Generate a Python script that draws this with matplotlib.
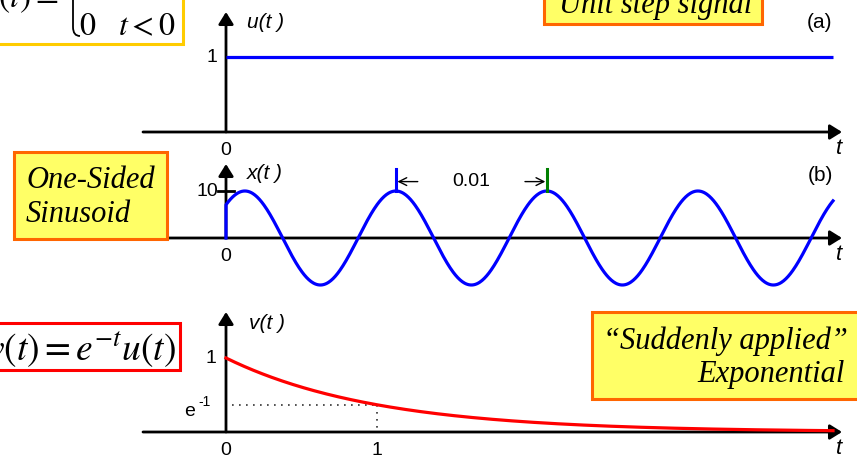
import numpy as np
import matplotlib.pyplot as plt
from matplotlib.patches import Rectangle, PathPatch
from matplotlib.path import Path

W, H = 857, 456

# (a) unit step u(t)
step_t = [0.0, 4.02]
step_u = [1.0, 1.0]

# (b) one-sided sinusoid x(t) = A cos(2*pi*f*t + phase) u(t)
sin_amp = 10
sin_freq = 100          # Hz -> period 0.01
sin_phase = -np.pi / 4
sin_t_end = 0.0402
period_marks = [0.01125, 0.02125]   # peaks marked by the 0.01 arrows

# (c) v(t) = exp(-t) u(t)
exp_rate = 1.0
exp_t_end = 4.02
exp_mark_t = 1.0

BLUE = "#0000FF"
RED = "#FF0000"
GREEN = "#008000"
YELLOW = "#FFFF66"
ORANGE = "#FF6600"
GOLD = "#FFCC00"
SANS = "Liberation Sans"
SERIF = "Liberation Serif"
TICK_FS = 14
LABEL_FS = 15
BOX_FS = 22

ORIGIN_X = 226          # pixel column of t = 0

fig = plt.figure(figsize=(W / 100, H / 100), dpi=100)


def fx(px):
    return px / W


def fy(py):
    return 1 - py / H


def panel(origin_y, sx, sy, top_px):
    """Transparent full-figure axes whose data origin sits at (ORIGIN_X, origin_y) pixels."""
    ax = fig.add_axes([0, 0, 1, 1])
    ax.set_xlim(-ORIGIN_X / sx, (W - ORIGIN_X) / sx)
    ax.set_ylim((origin_y - H) / sy, origin_y / sy)
    ax.axis("off")
    ax.patch.set_alpha(0)
    arrow = dict(arrowstyle="-|>,head_length=0.45,head_width=0.28", lw=2,
                 color="black", shrinkA=0, shrinkB=0, mutation_scale=16)
    ax.annotate("", xy=((842 - ORIGIN_X) / sx, 0), xytext=((143 - ORIGIN_X) / sx, 0),
                arrowprops=arrow, zorder=2)
    ax.annotate("", xy=(0, (origin_y - top_px) / sy), xytext=(0, 0),
                arrowprops=arrow, zorder=2)
    ax.annotate("0", (0, 0), xytext=(0, -18), textcoords="offset pixels",
                ha="center", va="center", fontsize=TICK_FS, family=SANS)
    ax.annotate("t", ((839 - ORIGIN_X) / sx, 0), xytext=(0, -16), textcoords="offset pixels",
                ha="center", va="center", fontsize=16, family=SANS, style="italic")
    return ax


# ---------- (a) unit step ----------
ax1 = panel(133, 151, 75, 13)
ax1.plot(step_t, step_u, color=BLUE, lw=2.3, zorder=3, solid_capstyle="butt")
ax1.annotate("1", (0, 1), xytext=(-14, 0), textcoords="offset pixels",
             ha="center", va="center", fontsize=TICK_FS, family=SANS)
fig.text(fx(247), fy(22), "u(t )", fontsize=LABEL_FS, family=SANS, style="italic", va="center")
fig.text(fx(820), fy(23), "(a)", fontsize=LABEL_FS, family=SANS, ha="center", va="center")

# ---------- (b) one-sided sinusoid ----------
ax2 = panel(239, 15100, 4.7, 165)
ts = np.linspace(0, sin_t_end, 800)
xs = sin_amp * np.cos(2 * np.pi * sin_freq * ts + sin_phase)
ax2.plot(np.r_[0, ts], np.r_[0, xs], color=BLUE, lw=2.3, zorder=3)
ax2.plot([-0.0005, 0.0005], [sin_amp, sin_amp], color="black", lw=2)
ax2.annotate("10", (0, sin_amp), xytext=(-8, 0), textcoords="offset pixels",
             ha="right", va="center", fontsize=TICK_FS, family=SANS)
for tp, col in zip(period_marks, [BLUE, GREEN]):
    ax2.plot([tp, tp], [sin_amp, sin_amp + 4.7], color=col, lw=2.2, zorder=4)
thin = dict(arrowstyle="->", lw=1, color="black", shrinkA=0, shrinkB=0, mutation_scale=14)
ax2.annotate("", xy=(period_marks[0] + 0.0001, 12.0), xytext=(period_marks[0] + 0.00145, 12.0),
             arrowprops=thin)
ax2.annotate("", xy=(period_marks[1] - 0.0001, 12.0), xytext=(period_marks[1] - 0.00145, 12.0),
             arrowprops=thin)
ax2.text(np.mean(period_marks), 12.2, "0.01", ha="center", va="center",
         fontsize=TICK_FS, family=SANS)
fig.text(fx(247), fy(174), "x(t )", fontsize=LABEL_FS, family=SANS, style="italic", va="center")
fig.text(fx(820), fy(176), "(b)", fontsize=LABEL_FS, family=SANS, ha="center", va="center")

# ---------- (c) exponential ----------
ax3 = panel(433, 151, 74, 313)
te = np.linspace(0, exp_t_end, 400)
ax3.plot(te, np.exp(-exp_rate * te), color=RED, lw=2.3, zorder=3)
ve = np.exp(-exp_rate * exp_mark_t)
dots = dict(color="#333333", lw=1.2, ls=(0, (1, 3.2)))
ax3.plot([0.04, exp_mark_t], [ve, ve], **dots)
ax3.plot([exp_mark_t, exp_mark_t], [ve, 0], **dots)
ax3.annotate("1", (0, 1), xytext=(-15, 0), textcoords="offset pixels",
             ha="center", va="center", fontsize=TICK_FS, family=SANS)
ax3.annotate("e", (0, ve), xytext=(-36, -6), textcoords="offset pixels",
             ha="center", va="center", fontsize=TICK_FS, family=SANS)
ax3.annotate("-1", (0, ve), xytext=(-22, 4), textcoords="offset pixels",
             ha="center", va="center", fontsize=10, family=SANS)
ax3.annotate("1", (exp_mark_t, 0), xytext=(0, -18), textcoords="offset pixels",
             ha="center", va="center", fontsize=TICK_FS, family=SANS)
fig.text(fx(249), fy(324), "v(t )", fontsize=LABEL_FS, family=SANS, style="italic", va="center")


# ---------- callout boxes ----------
def box(x0, y0, x1, y1, face, edge):
    fig.patches.append(Rectangle((fx(x0), fy(y1)), fx(x1) - fx(x0), fy(y0) - fy(y1),
                                 transform=fig.transFigure, facecolor=face,
                                 edgecolor=edge, lw=2.2, zorder=5))


box(-10, -10, 183, 45, "white", GOLD)
fig.text(fx(58), fy(7), "$u(t)=$", fontsize=24, math_fontfamily="stix",
         ha="right", va="baseline", zorder=6)
brace = Path([(fx(73), fy(-10)), (fx(73), fy(28)), (fx(73), fy(37)), (fx(80), fy(37))],
             [Path.MOVETO, Path.LINETO, Path.CURVE3, Path.CURVE3])
fig.patches.append(PathPatch(brace, transform=fig.transFigure, fill=False,
                             lw=1.3, edgecolor="black", zorder=6))
fig.text(fx(79), fy(35), "$0$", fontsize=23, math_fontfamily="stix", va="baseline", zorder=6)
fig.text(fx(118), fy(35), "$t<0$", fontsize=23, math_fontfamily="stix", va="baseline", zorder=6)

box(544, -10, 762, 25, YELLOW, ORANGE)
fig.text(fx(752), fy(13), "Unit step signal", fontsize=BOX_FS, family=SERIF, style="italic",
         ha="right", va="baseline", zorder=6)

box(14, 153, 167, 240, YELLOW, ORANGE)
fig.text(fx(26), fy(180), "One-Sided", fontsize=BOX_FS, family=SERIF, style="italic",
         va="center", zorder=6)
fig.text(fx(26), fy(215), "Sinusoid", fontsize=BOX_FS, family=SERIF, style="italic",
         va="center", zorder=6)

box(-10, 324, 180, 371, "white", RED)
fig.text(fx(176), fy(349), "$v(t)=e^{-t}u(t)$", fontsize=27, math_fontfamily="stix",
         ha="right", va="center", zorder=6)

box(592, 313, 870, 400, YELLOW, ORANGE)
fig.text(fx(848), fy(341), "\u201cSuddenly applied\u201d", fontsize=BOX_FS, family=SERIF,
         style="italic", ha="right", va="center", zorder=6)
fig.text(fx(845), fy(375), "Exponential", fontsize=BOX_FS, family=SERIF, style="italic",
         ha="right", va="center", zorder=6)

fig.savefig("out.png", dpi=100)
